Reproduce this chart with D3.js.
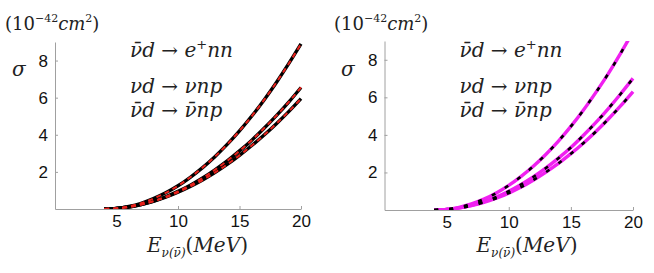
<!DOCTYPE html>
<html lang="en">
<head>
<meta charset="utf-8">
<title>Deuteron cross sections</title>
<script src="https://d3js.org/d3.v7.min.js"></script>
<style>
  body { margin: 0; background: #fff; }
  svg { display: block; }
  .axis path, .axis line { stroke: #a0a0a0; }
  .axis text { font-family: "Liberation Sans", Arial, sans-serif; font-size: 17px; fill: #111; }
  .math { font-family: "DejaVu Serif", serif; fill: #222; }
</style>
</head>
<body>
<svg id="chart" width="654" height="273"></svg>
<script>
// neutrino energy grid (MeV)
var energy = [4, 5, 6, 7, 8, 9, 10, 11, 12, 13, 14, 15, 16, 17, 18, 19, 20];

// left panel, sigma in 1e-42 cm^2
var leftCC  = [0, 0.035, 0.14, 0.31, 0.56, 0.87, 1.25, 1.71, 2.23, 2.82, 3.48, 4.21, 5.01, 5.88, 6.82, 7.83, 8.90];
var leftNC  = [0, 0.028, 0.109, 0.242, 0.425, 0.66, 0.95, 1.28, 1.67, 2.11, 2.59, 3.13, 3.71, 4.35, 5.03, 5.76, 6.55];
var leftNCb = [0, 0.029, 0.109, 0.238, 0.413, 0.633, 0.90, 1.21, 1.56, 1.96, 2.40, 2.89, 3.42, 3.99, 4.60, 5.25, 5.95];

// right panel
var rightCC  = [0, 0.035, 0.143, 0.323, 0.577, 0.906, 1.31, 1.79, 2.34, 2.97, 3.67, 4.45, 5.31, 6.25, 7.25, 8.34, 9.50];
var rightNC  = [0, 0.028, 0.112, 0.252, 0.446, 0.695, 1.00, 1.36, 1.77, 2.24, 2.76, 3.33, 3.97, 4.65, 5.39, 6.18, 7.01];
var rightNCb = [0, 0.026, 0.102, 0.229, 0.405, 0.63, 0.90, 1.22, 1.60, 2.02, 2.48, 3.00, 3.56, 4.17, 4.83, 5.54, 6.30];

var xTicks = [5, 10, 15, 20];
var yTicks = [2, 4, 6, 8];

var svg = d3.select("#chart");

var panels = [
  { x0: 55, x1: 301, y0: 209, y1: 42, series: [leftCC, leftNC, leftNCb],
    under: "#000", under_w: 3.4, over: "#e8221c", over_w: 2, dash: "5,4", id: "L", dx: 0 },
  { x0: 384.5, x1: 633, y0: 210, y1: 41, series: [rightCC, rightNC, rightNCb],
    under: "#f020f0", under_w: 3.4, over: "#000", over_w: 2.6, dash: "4,11", id: "R", dx: 329 }
];

panels.forEach(function(p) {
  var x = d3.scaleLinear().domain([0, 20]).range([p.x0, p.x1]);
  var y = d3.scaleLinear().domain([0, 9]).range([p.y0, p.y1]);

  svg.append("clipPath").attr("id", "clip" + p.id)
    .append("rect")
    .attr("x", p.x0).attr("y", p.y1)
    .attr("width", p.x1 - p.x0 + 4).attr("height", p.y0 - p.y1);

  var xAxis = d3.axisBottom(x).tickValues(xTicks).tickSizeInner(-3).tickSizeOuter(0).tickPadding(6);
  var yAxis = d3.axisLeft(y).tickValues(yTicks).tickSizeInner(-3).tickSizeOuter(0).tickPadding(7);

  svg.append("g").attr("class", "axis")
    .attr("transform", "translate(0," + p.y0 + ")")
    .call(xAxis);
  svg.append("g").attr("class", "axis")
    .attr("transform", "translate(" + p.x0 + ",0)")
    .call(yAxis);

  var line = d3.line()
    .x(function(d, i) { return x(energy[i]); })
    .y(function(d) { return y(d); })
    .curve(d3.curveMonotoneX);

  var g = svg.append("g").attr("clip-path", "url(#clip" + p.id + ")");
  p.series.forEach(function(s) {
    g.append("path").datum(s)
      .attr("d", line)
      .attr("fill", "none")
      .attr("stroke", p.under)
      .attr("stroke-width", p.under_w);
  });
  p.series.forEach(function(s) {
    g.append("path").datum(s)
      .attr("d", line)
      .attr("fill", "none")
      .attr("stroke", p.over)
      .attr("stroke-width", p.over_w)
      .attr("stroke-dasharray", p.dash);
  });

  // unit label
  var u = svg.append("text").attr("class", "math")
    .attr("x", 5 + p.dx).attr("y", 30).attr("font-size", 18);
  u.append("tspan").text("(10");
  u.append("tspan").attr("dy", -8).attr("font-size", 11).text("\u221242");
  u.append("tspan").attr("dy", 8).attr("font-style", "italic").text("cm");
  u.append("tspan").attr("dy", -8).attr("font-size", 11).text("2");
  u.append("tspan").attr("dy", 8).text(")");

  // sigma
  svg.append("text").attr("class", "math")
    .attr("x", 12 + p.dx).attr("y", 76)
    .attr("font-size", 20).attr("font-style", "italic")
    .text("\u03c3");

  // reaction labels
  var lx = p.x0 + 75;
  var t1 = svg.append("text").attr("class", "math").attr("x", lx).attr("y", 57).attr("font-size", 20);
  t1.append("tspan").attr("font-style", "italic").text("\u03bd\u0304d");
  t1.append("tspan").text(" \u2192 ");
  t1.append("tspan").attr("font-style", "italic").text("e");
  t1.append("tspan").attr("dy", -8).attr("font-size", 13).text("+");
  t1.append("tspan").attr("dy", 8).attr("font-style", "italic").text("nn");

  var t2 = svg.append("text").attr("class", "math").attr("x", lx).attr("y", 93).attr("font-size", 20);
  t2.append("tspan").attr("font-style", "italic").text("\u03bdd");
  t2.append("tspan").text(" \u2192 ");
  t2.append("tspan").attr("font-style", "italic").text("\u03bdnp");

  var t3 = svg.append("text").attr("class", "math").attr("x", lx).attr("y", 117).attr("font-size", 20);
  t3.append("tspan").attr("font-style", "italic").text("\u03bd\u0304d");
  t3.append("tspan").text(" \u2192 ");
  t3.append("tspan").attr("font-style", "italic").text("\u03bd\u0304np");

  // x axis title
  var xt = svg.append("text").attr("class", "math").attr("x", p.x0 + 92).attr("y", 252).attr("font-size", 20);
  xt.append("tspan").attr("font-style", "italic").text("E");
  xt.append("tspan").attr("dy", 5).attr("font-size", 12).attr("font-style", "italic").text("\u03bd(\u03bd\u0304)");
  xt.append("tspan").attr("dy", -5).text("(");
  xt.append("tspan").attr("font-style", "italic").text("MeV");
  xt.append("tspan").text(")");
});
</script>
</body>
</html>
